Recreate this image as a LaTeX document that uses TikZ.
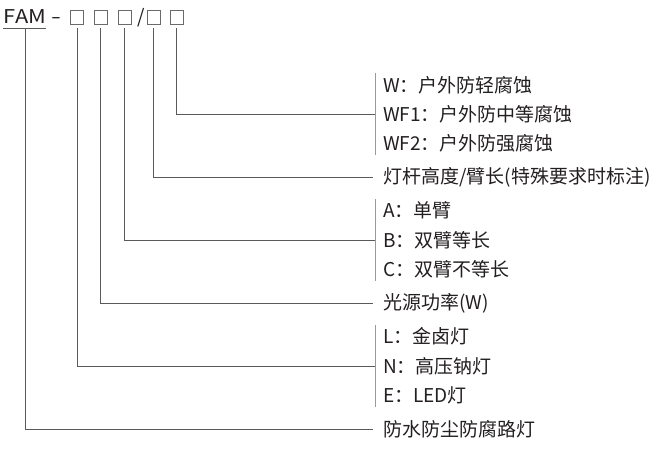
\documentclass[tikz,border=0pt]{standalone}
\usepackage{fontspec}
\setmainfont{Noto Sans CJK SC}
\definecolor{txt}{HTML}{231F20}
\definecolor{linegray}{HTML}{5A5A5A}
\definecolor{brkgray}{HTML}{9A9A9A}
\definecolor{boxgray}{HTML}{6A6A6A}
\begin{document}
\begin{tikzpicture}[x=1pt,y=-1pt,
  conn/.style={draw=linegray,line width=0.8pt},
  brk/.style={draw=brkgray,line width=0.8pt},
  lbl/.style={anchor=west,inner sep=0pt,font=\fontsize{19}{19}\selectfont,text=txt},
  toptxt/.style={anchor=base,inner sep=0pt,font=\fontsize{19}{19}\selectfont,text=txt},
  codebox/.style={draw=boxgray,line width=0.6pt,minimum width=13pt,minimum height=14pt,inner sep=0pt}]
\useasboundingbox (0,0) rectangle (658,457);
% top code
\node[toptxt] (fam) at (25,23.5) {\scalebox{1.15}[1]{FAM}};
\node[toptxt] (dash) at (56.5,23.5) {\scalebox{1.5}[1]{-}};
\node[codebox] (b1) at (77,17.5) {};
\node[codebox] (b2) at (100.5,17.5) {};
\node[codebox] (b3) at (124.5,17.5) {};
\node[toptxt] (slash) at (141,23.5) {/};
\node[codebox] (b4) at (153.5,17.5) {};
\node[codebox] (b5) at (176.5,17.5) {};
\coordinate (ul1) at (3,28);
\coordinate (ul2) at (46,28);
\coordinate (fu) at (25,28);
\draw[conn] (ul1) -- (ul2);
% labels
\node[lbl] (t1) at (383,85) {W：户外防轻腐蚀};
\node[lbl] (t2) at (383,114) {WF1：户外防中等腐蚀};
\node[lbl] (t3) at (383,143) {WF2：户外防强腐蚀};
\node[lbl] (t4) at (383,177) {灯杆高度/臂长(特殊要求时标注)};
\node[lbl] (t5) at (383,210.5) {A：单臂};
\node[lbl] (t6) at (383,240) {B：双臂等长};
\node[lbl] (t7) at (383,269.5) {C：双臂不等长};
\node[lbl] (t8) at (383,303) {光源功率(W)};
\node[lbl] (t9) at (383,336.5) {L：金卤灯};
\node[lbl] (t10) at (383,366) {N：高压钠灯};
\node[lbl] (t11) at (383,395.5) {E：LED灯};
\node[lbl] (t12) at (383,429) {防水防尘防腐路灯};
% brackets
\coordinate (k1t) at (375,73);
\coordinate (k1b) at (375,155);
\coordinate (k1) at (375,114);
\coordinate (k2t) at (375,199);
\coordinate (k2b) at (375,281);
\coordinate (k2) at (375,240);
\coordinate (k3t) at (375,325);
\coordinate (k3b) at (375,407);
\coordinate (k3) at (375,366);
\draw[brk] (k1t) -- (k1b);
\draw[brk] (k2t) -- (k2b);
\draw[brk] (k3t) -- (k3b);
% connectors
\draw[conn] ([yshift=-3.5pt]b5.south) |- (k1);
\draw[conn] ([yshift=-3.5pt]b4.south) |- ([xshift=-10pt]t4.west);
\draw[conn] ([yshift=-3.5pt]b3.south) |- (k2);
\draw[conn] ([yshift=-3.5pt]b2.south) |- ([xshift=-10pt]t8.west);
\draw[conn] ([yshift=-3.5pt]b1.south) |- (k3);
\draw[conn] (fu) |- ([xshift=-10pt]t12.west);
\end{tikzpicture}
\end{document}
